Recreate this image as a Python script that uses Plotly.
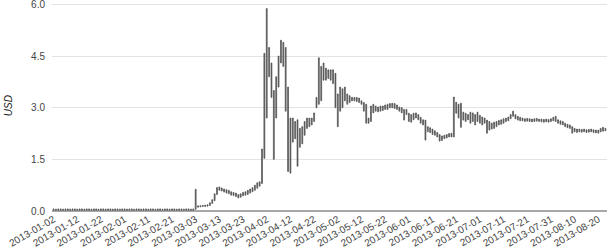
import plotly.graph_objects as go
import pandas as pd

start_date = "2013-01-02"

low = [
    0.02,0.02,0.02,0.02,0.02,0.02,0.02,0.02,0.02,0.02,
    0.02,0.02,0.02,0.02,0.02,0.02,0.02,0.02,0.02,0.02,
    0.02,0.02,0.02,0.02,0.02,0.02,0.02,0.02,0.02,0.02,
    0.02,0.02,0.02,0.02,0.02,0.02,0.02,0.02,0.02,0.02,
    0.02,0.02,0.02,0.02,0.02,0.02,0.02,0.02,0.02,0.02,
    0.02,0.02,0.02,0.02,0.02,0.02,0.02,0.02,0.02,0.02,
    0.05,0.11,0.12,0.13,0.13,0.14,0.16,0.22,0.30,0.48,
    0.60,0.58,0.55,0.52,0.50,0.46,0.45,0.42,0.38,0.40,
    0.44,0.46,0.48,0.52,0.56,0.60,0.66,0.72,0.80,1.53,
    2.70,3.90,3.30,1.50,2.70,3.60,4.30,4.20,2.90,1.15,
    1.10,2.00,2.10,1.30,1.85,1.95,2.20,2.40,2.45,2.50,
    2.60,3.00,3.10,3.20,3.80,3.80,3.85,3.80,3.70,3.00,
    2.45,2.90,3.00,3.20,3.10,3.15,3.20,3.20,3.18,3.15,
    3.10,2.90,2.55,2.55,2.60,2.85,2.90,2.88,2.90,2.92,
    2.95,2.95,3.00,3.00,2.98,2.95,2.90,2.85,2.64,2.80,
    2.60,2.58,2.65,2.70,2.65,2.55,2.50,2.06,2.30,2.28,
    2.22,2.20,2.15,2.03,2.05,2.10,2.12,2.15,2.15,2.15,
    2.84,2.70,2.43,2.64,2.60,2.65,2.55,2.60,2.50,2.60,
    2.55,2.50,2.55,2.26,2.35,2.38,2.40,2.45,2.50,2.52,
    2.55,2.60,2.62,2.68,2.75,2.68,2.64,2.62,2.62,2.60,
    2.61,2.60,2.59,2.60,2.61,2.60,2.59,2.58,2.59,2.58,
    2.60,2.62,2.60,2.55,2.52,2.50,2.45,2.42,2.40,2.26,
    2.30,2.28,2.30,2.29,2.30,2.28,2.29,2.30,2.28,2.27,
    2.26,2.30,2.32,2.33,
]

high = [
    0.06,0.05,0.06,0.06,0.05,0.06,0.06,0.05,0.06,0.06,
    0.05,0.06,0.06,0.05,0.06,0.06,0.05,0.06,0.06,0.05,
    0.06,0.06,0.05,0.06,0.06,0.05,0.06,0.06,0.05,0.06,
    0.06,0.05,0.06,0.06,0.05,0.06,0.06,0.05,0.06,0.06,
    0.05,0.06,0.06,0.05,0.06,0.06,0.05,0.06,0.06,0.05,
    0.06,0.06,0.05,0.06,0.06,0.05,0.06,0.06,0.05,0.06,
    0.63,0.15,0.15,0.16,0.17,0.18,0.24,0.33,0.50,0.68,
    0.70,0.67,0.64,0.62,0.60,0.56,0.54,0.52,0.48,0.50,
    0.54,0.56,0.60,0.64,0.68,0.75,0.82,0.85,1.80,4.58,
    5.88,4.75,4.30,3.50,3.90,4.50,4.96,4.90,4.75,3.60,
    2.70,2.70,2.60,2.65,2.40,2.45,2.60,2.70,2.70,2.70,
    2.85,3.30,4.45,4.20,4.30,4.15,4.10,4.10,4.10,4.00,
    3.40,3.60,3.55,3.60,3.40,3.35,3.30,3.30,3.30,3.28,
    3.20,3.15,3.10,2.70,3.05,3.10,3.05,3.02,3.05,3.05,
    3.08,3.10,3.12,3.13,3.12,3.08,3.02,3.00,2.95,2.95,
    2.84,2.80,2.84,2.85,2.80,2.72,2.65,2.64,2.45,2.42,
    2.38,2.33,2.28,2.22,2.18,2.20,2.22,2.25,2.26,3.31,
    3.16,3.10,3.13,2.87,2.84,2.80,2.87,2.85,2.80,2.87,
    2.78,2.73,2.70,2.64,2.60,2.55,2.58,2.60,2.63,2.65,
    2.68,2.70,2.73,2.80,2.90,2.80,2.75,2.72,2.70,2.68,
    2.69,2.68,2.67,2.68,2.69,2.67,2.67,2.66,2.67,2.66,
    2.68,2.72,2.75,2.65,2.62,2.60,2.55,2.52,2.50,2.45,
    2.40,2.38,2.38,2.37,2.38,2.36,2.37,2.38,2.36,2.35,
    2.35,2.40,2.43,2.40,
]

assert len(low) == len(high)
dates = pd.date_range(start_date, periods=len(low), freq="D")

tick_vals = list(dates[::10])
tick_text = [d.strftime("%Y-%m-%d") for d in tick_vals]
y_ticks = [0.0, 1.5, 3.0, 4.5, 6.0]

CANDLE = "#555555"

fig = go.Figure(go.Candlestick(
    x=dates, open=low, close=high, high=high, low=low,
    increasing=dict(line=dict(color=CANDLE, width=0.7), fillcolor=CANDLE),
    decreasing=dict(line=dict(color=CANDLE, width=0.7), fillcolor=CANDLE),
    whiskerwidth=0, hoverinfo="skip",
))

fig.update_layout(
    width=607, height=252,
    margin=dict(l=52, r=0, t=1, b=41),
    paper_bgcolor="white", plot_bgcolor="white",
    font=dict(family="Liberation Sans, Arial, sans-serif", size=10, color="#444444"),
    showlegend=False,
    boxgap=0.45,
    xaxis=dict(
        type="date",
        range=[dates[0] - pd.Timedelta(hours=16), dates[-1] + pd.Timedelta(hours=16)],
        tickvals=tick_vals, ticktext=tick_text, tickangle=-30,
        showgrid=False, zeroline=False, showline=False, ticks="",
        rangeslider=dict(visible=False), ticklabeloverflow="allow",
        tickfont=dict(size=10, color="#444444"),
    ),
    yaxis=dict(
        range=[0, 6.1], tickvals=y_ticks, tickformat=".1f",
        showgrid=True, gridcolor="#e3e3e3", gridwidth=1,
        zeroline=True, zerolinecolor="#a8a8a8", zerolinewidth=1.5,
        ticks="", showline=False, ticklabelstandoff=6,
        ticklabeloverflow="allow",
        tickfont=dict(size=10, color="#444444"),
    ),
    annotations=[dict(
        text="USD", xref="paper", yref="paper", x=-0.079, y=0.5,
        textangle=-90, showarrow=False, xanchor="center", yanchor="middle",
        font=dict(size=10, color="#222222", style="italic"),
    )],
)

fig.write_html("out.html")
